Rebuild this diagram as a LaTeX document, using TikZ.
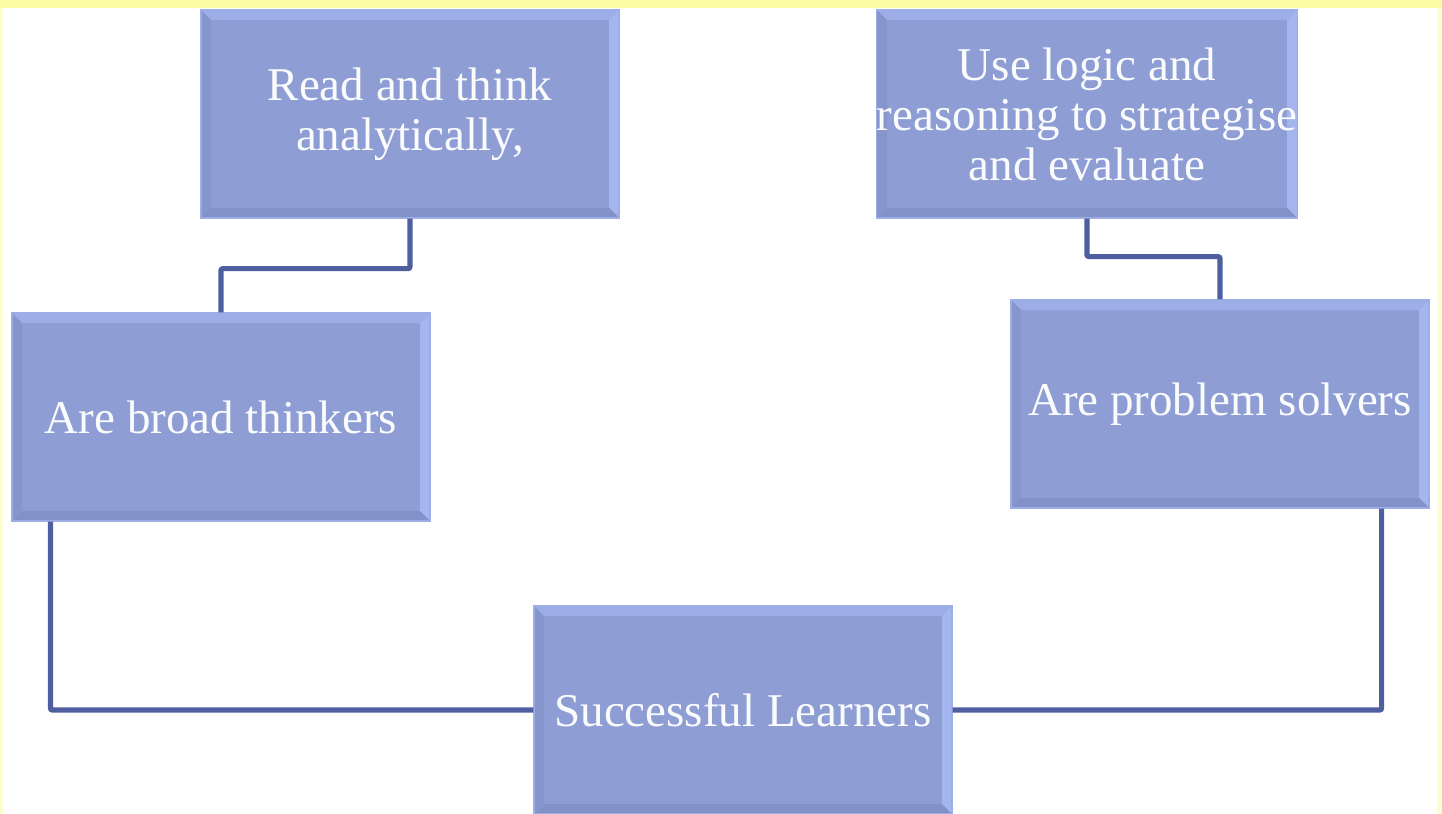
\documentclass[tikz,border=0pt]{standalone}
\usepackage{fontspec}
\setmainfont{Liberation Serif}
\usepackage{tikz}
\usepackage{color}

\definecolor{boxfill}{HTML}{8E9ED5}
\definecolor{bevtop}{HTML}{9DADE6}
\definecolor{bevright}{HTML}{A5B5EF}
\definecolor{bevbottom}{HTML}{8292C8}
\definecolor{bevleft}{HTML}{8696CD}
\definecolor{linkblue}{HTML}{4E5E9F}
\definecolor{bandyellow}{HTML}{FBFBA6}
\definecolor{edgeyellow}{HTML}{FDFDD2}

\begin{document}
\begin{tikzpicture}[x=0.5pt,y=-0.5pt]
	\tikzstyle{every node}+=[inner sep=0pt]
	\tikzstyle{bevel}=[rectangle, fill=boxfill, draw=bevtop, line width=0.6pt,
		minimum width=209pt, minimum height=104pt, align=center,
		text=white!96!boxfill, font=\fontsize{23.5}{25}\selectfont,
		path picture={
			\fill[bevtop] (path picture bounding box.north west) -- (path picture bounding box.north east)
				-- ([shift={(-5pt,-5pt)}]path picture bounding box.north east) -- ([shift={(5pt,-5pt)}]path picture bounding box.north west) -- cycle;
			\fill[bevright] (path picture bounding box.north east) -- (path picture bounding box.south east)
				-- ([shift={(-5pt,5pt)}]path picture bounding box.south east) -- ([shift={(-5pt,-5pt)}]path picture bounding box.north east) -- cycle;
			\fill[bevbottom] (path picture bounding box.south west) -- (path picture bounding box.south east)
				-- ([shift={(-5pt,5pt)}]path picture bounding box.south east) -- ([shift={(5pt,5pt)}]path picture bounding box.south west) -- cycle;
			\fill[bevleft] (path picture bounding box.north west) -- (path picture bounding box.south west)
				-- ([shift={(5pt,5pt)}]path picture bounding box.south west) -- ([shift={(5pt,-5pt)}]path picture bounding box.north west) -- cycle;
		}]
	\tikzstyle{link}=[draw=linkblue, line width=2.6pt, rounded corners=1pt]

	\fill[white] (0,0) rectangle (1442,814);
	\fill[edgeyellow] (0,0) rectangle (3,814);
	\fill[edgeyellow] (1437,0) rectangle (1442,814);
	\fill[bandyellow] (0,0) rectangle (1442,8);
	\useasboundingbox (0,0) rectangle (1442,814);

	\node[bevel] (read) at (410,114) {Read and think\\analytically,};
	\node[bevel] (logic) at (1087,114) {Use logic and\\reasoning to strategise\\and evaluate};
	\node[bevel] (broad) at (221,417) {Are broad thinkers};
	\node[bevel] (solve) at (1220,404) {Are problem solvers};
	\node[bevel] (learn) at (743,710) {Successful Learners};

	\draw[link] (read.south) -- ++(0,50) -| (broad.north);
	\draw[link] (logic.south) -- ++(0,38) -| (solve.north);
	\draw[link] ([xshift=19.5pt]broad.south west) |- (learn.west);
	\draw[link] ([xshift=-24pt]solve.south east) |- (learn.east);
\end{tikzpicture}
\end{document}
